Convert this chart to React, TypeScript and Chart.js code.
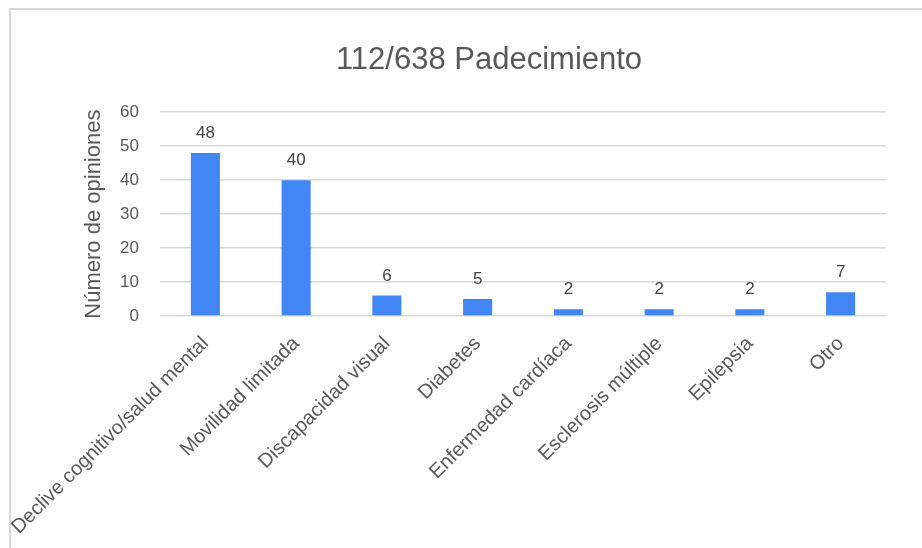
import React, { useEffect, useRef } from 'react';
import { Chart, registerables } from 'chart.js';

Chart.register(...registerables);

const chartTitle = '112/638 Padecimiento';
const yAxisTitle = 'Número de opiniones';
const categories = [
  'Declive cognitivo/salud mental',
  'Movilidad limitada',
  'Discapacidad visual',
  'Diabetes',
  'Enfermedad cardíaca',
  'Esclerosis múltiple',
  'Epilepsia',
  'Otro',
];
const values = [48, 40, 6, 5, 2, 2, 2, 7];
const yMin = 0;
const yMax = 60;
const yStep = 10;

const FONT = "Arial, 'Liberation Sans', sans-serif";
const TEXT = '#595959';
const BAR = '#4285f4';
const GRID = '#d9d9d9';

const valueLabels = {
  id: 'valueLabels',
  afterDatasetsDraw(chart: any) {
    const ctx = chart.ctx;
    const meta = chart.getDatasetMeta(0);
    ctx.save();
    ctx.font = `17px ${FONT}`;
    ctx.fillStyle = '#444444';
    ctx.textAlign = 'center';
    ctx.textBaseline = 'alphabetic';
    meta.data.forEach((el: any, i: number) => {
      ctx.fillText(String(values[i]), el.x, el.y - 15);
    });
    ctx.restore();
  },
};

export default function App() {
  const ref = useRef<HTMLCanvasElement | null>(null);

  useEffect(() => {
    if (!ref.current) return;
    const chart = new Chart(ref.current, {
      type: 'bar',
      data: {
        labels: categories,
        datasets: [
          {
            data: values,
            backgroundColor: BAR,
            borderWidth: 0,
            barPercentage: 0.32,
            categoryPercentage: 1,
          },
        ],
      },
      options: {
        animation: false,
        responsive: false,
        maintainAspectRatio: false,
        layout: { padding: { left: 56, right: 0, top: 0, bottom: 0 } },
        plugins: {
          legend: { display: false },
          tooltip: { enabled: false },
          title: {
            display: true,
            text: chartTitle,
            color: TEXT,
            font: { family: FONT, size: 31, weight: 'normal' },
            padding: { top: 42, bottom: 33 },
          },
        },
        scales: {
          x: {
            type: 'category',
            offset: true,
            grid: { display: false, drawTicks: false },
            border: { display: false },
            ticks: {
              color: TEXT,
              font: { family: FONT, size: 20 },
              minRotation: 45,
              maxRotation: 45,
              autoSkip: false,
              padding: 16,
            },
            afterFit: (s: any) => {
              s.height = 232;
              s.paddingLeft = 0;
              s.paddingRight = 0;
            },
          },
          y: {
            type: 'linear',
            position: 'left',
            min: yMin,
            max: yMax,
            ticks: {
              stepSize: yStep,
              color: TEXT,
              font: { family: FONT, size: 17 },
              padding: 21,
            },
            grid: { color: GRID, lineWidth: 1.5, drawTicks: false },
            border: { display: false },
            title: {
              display: true,
              text: yAxisTitle,
              color: TEXT,
              font: { family: FONT, size: 22 },
              padding: { top: 25, bottom: 0 },
            },
            afterFit: (s: any) => {
              s.width = 104;
            },
          },
          yR: {
            type: 'linear',
            position: 'right',
            display: true,
            grid: { display: false, drawTicks: false },
            border: { display: false },
            ticks: { display: false },
            afterFit: (s: any) => {
              s.width = 36;
            },
          },
        },
      },
      plugins: [valueLabels],
    });
    return () => chart.destroy();
  }, []);

  return (
    <div
      style={{
        position: 'fixed',
        left: 0,
        top: 0,
        width: 922,
        height: 548,
        background: '#ffffff',
        overflow: 'hidden',
      }}
    >
      <div
        style={{
          position: 'absolute',
          left: 9,
          top: 8,
          width: 940,
          height: 580,
          border: '2px solid #d9d9d9',
          boxSizing: 'border-box',
        }}
      />
      <canvas
        ref={ref}
        width={922}
        height={548}
        style={{ position: 'absolute', left: 0, top: 0, width: 922, height: 548 }}
      />
    </div>
  );
}
